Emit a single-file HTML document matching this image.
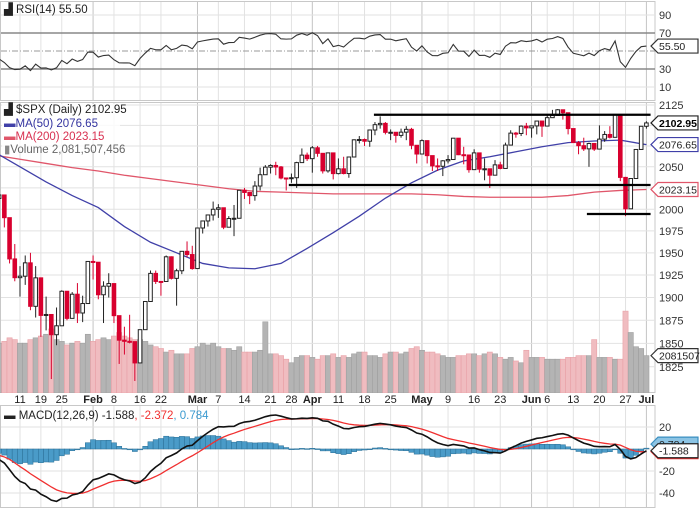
<!DOCTYPE html>
<html><head><meta charset="utf-8"><style>
html,body{margin:0;padding:0;background:#fff;}
svg{display:block;font-family:"Liberation Sans",sans-serif;}
</style></head><body>
<svg id="c" width="700" height="508" viewBox="0 0 700 508" xmlns="http://www.w3.org/2000/svg"></svg>
<script>
const closes=[2012.66,2016.71,1990.26,1943.09,1922.03,1923.67,1938.68,1890.28,1921.84,1880.33,1881.33,1859.33,1868.99,1906.90,1877.08,1903.63,1882.95,1893.36,1940.24,
1939.38,1903.03,1912.53,1915.45,1880.05,1853.44,1852.21,1851.86,1829.08,1864.78,1895.58,1926.82,1917.83,1917.78,1945.50,1921.27,1929.80,1951.70,1948.05,1932.23,
1978.35,1986.45,1993.40,1999.99,2001.76,1979.26,1989.26,1989.57,2022.19,2019.64,2015.93,2027.22,2040.59,2049.58,2051.60,2049.80,2036.71,2035.94,2037.05,2055.01,2063.95,2059.74,
2072.78,2066.13,2045.17,2066.66,2041.91,2047.60,2041.99,2061.72,2082.42,2082.78,2080.73,2094.34,2100.80,2102.40,2091.48,2091.58,2087.79,2091.70,2095.15,2075.81,2065.30,
2081.43,2063.37,2051.12,2050.63,2057.14,2058.69,2084.39,2064.46,2064.11,2046.61,2066.66,2047.21,2047.63,2040.04,2052.32,2048.04,2076.06,2090.54,2090.10,2099.06,2096.95,
2099.33,2105.26,2099.13,2109.41,2112.13,2119.12,2115.48,2096.07,2079.06,2075.32,2071.50,2077.99,2071.22,2083.25,2088.90,2085.45,2113.32,2037.41,2000.54,2036.09,2070.77,2098.86,
2102.95];
const highs=[2038,2021,2011,1985,1960,1935,1947,1950,1935,1908,1901,1876,1889,1908,1906,1906,1916,1902,1940,
1947,1939,1918,1927,1913,1873,1868,1881,1845,1865,1895,1930,1930,1918,1947,1946,1932,1952,1963,1958,
1978,1987,1993,2009,2006,1999,1992,2005,2022,2025,2018,2033,2049,2052,2053,2056,2051,2036,2042,2056,2072,2067,
2075,2075,2060,2067,2062,2060,2062,2062,2083,2087,2084,2095,2104,2111,2104,2095,2090,2096,2099,2097,2074,
2083,2076,2060,2060,2058,2064,2084,2084,2074,2064,2071,2067,2060,2044,2058,2056,2079,2094,2092,2100,2103,
2100,2105,2104,2113,2119,2120,2117,2109,2096,2081,2085,2079,2078,2100,2093,2099,2113,2113,2038,2036,2071,2099,
2105];
const lows=[1989,2005,1979,1938,1918,1901,1914,1886,1878,1857,1864,1812,1848,1878,1875,1877,1872,1873,1894,
1920,1898,1872,1900,1872,1828,1838,1850,1810,1833,1871,1898,1915,1902,1925,1920,1891,1926,1945,1931,
1937,1972,1980,1987,1990,1977,1979,1969,1999,2012,2006,2010,2022,2041,2042,2040,2035,2022,2031,2025,2058,2057,
2043,2062,2042,2043,2035,2041,2041,2037,2066,2078,2075,2074,2088,2096,2089,2082,2079,2085,2082,2071,2054,
2066,2054,2045,2045,2039,2054,2059,2064,2053,2043,2047,2043,2034,2025,2042,2047,2050,2078,2085,2087,2088,
2085,2089,2086,2100,2110,2112,2107,2089,2079,2065,2069,2050,2069,2082,2080,2084,2090,2033,1992,2001,2036,2071,
2096];
const volumes=[2.9,2.8,2.9,3.1,3.0,2.8,2.8,3.0,3.1,3.2,3.3,3.6,3.0,2.9,2.7,2.8,2.9,2.8,3.3,
2.9,3.0,3.1,3.0,3.2,3.4,3.2,3.1,3.0,3.0,2.9,2.7,2.6,2.5,2.3,2.4,2.2,2.2,2.2,2.5,
2.6,2.8,2.7,2.8,2.6,2.5,2.5,2.4,2.6,2.3,2.3,2.3,2.4,4.0,2.2,2.2,2.1,1.9,1.7,2.0,2.1,2.1,
2.0,1.9,2.1,2.1,2.2,2.0,2.1,2.0,2.2,2.3,2.3,2.1,2.1,2.0,2.2,2.3,2.3,2.2,2.3,2.5,2.6,
2.4,2.3,2.3,2.2,2.1,2.0,2.0,2.1,2.1,2.2,2.2,2.1,2.2,2.3,2.2,2.0,1.9,2.0,1.8,1.7,2.4,
2.0,2.0,2.0,1.9,1.9,1.9,1.9,2.0,2.0,2.1,2.1,2.1,3.0,2.0,2.0,2.0,1.9,1.9,4.6,3.4,2.6,2.5,
2.1];
const maSampleIdx=[0,5,10,15,20,25,30,35,40,45,50,55,60,65,70,75,80,85,90,95,100,105,110,115,120,125];
const ma50=[2068,2050,2032,2016,2002,1980,1962,1950,1938,1933,1932,1938,1955,1973,1992,2013,2031,2046,2057,2062,2068,2074,2079,2081,2082,2076.65];
const ma200=[2064,2059,2054,2049,2045,2040,2036,2032,2028,2024,2021,2020,2019,2018,2018,2018,2018,2017,2015,2014,2014,2014,2016,2020,2022,2023.15];
const tickIdx=[5,9,13,19,23,28,32,39,43,48,53,57,61,66,71,76,82,87,92,97,103,106,111,116,121,125];
const tickLabels=["11","19","25","Feb","8","16","22","Mar","7","14","21","28","Apr","11","18","25","May","9","16","23","Jun","6","13","20","27","Jul"];
const monthTick=[0,0,0,1,0,0,0,1,0,0,0,0,1,0,0,0,1,0,0,0,1,0,0,0,0,1];
const priceTicks=[2125,2100,2075,2050,2025,2000,1975,1950,1925,1900,1875,1850,1825];
const rsiTicks=[90,70,50,30,10];
const macdTicks=[20,0,-20,-40];
const trendLines=[[72.8,125.8,2113],[56.5,125.8,2028.4],[113.6,125.8,1994.5]];
const prevClose0=2043.94;

const NS="http://www.w3.org/2000/svg";
const svg=document.getElementById('c');
function mk(tag,at,parent){const e=document.createElementNS(NS,tag);for(const k in at)e.setAttribute(k,at[k]);(parent||svg).appendChild(e);return e;}
const PR=655;
function xOf(i){return 20+(i-5)*5.22;}
function yP(p){return 105+1720*Math.log(2125/p);}
function yR(v){return 33+(70-v)*0.9;}
function yM(m){return 449-m*1.1;}
function yV(v){return 393-v*17.8;}

const panels=[[1,101],[102,393],[405,508]];
panels.forEach((p,k)=>{const r=mk('rect',{x:0.5,y:p[0]+0.5,width:PR-0.5,height:p[1]-p[0]-1,fill:'#fff',stroke:'#c8c8c8'});

});
const defs=mk('defs',{});
[['clipR',1,101],['clipP',102,393],['clipM',405,508]].forEach(c=>{const cp=mk('clipPath',{id:c[0]},defs);mk('rect',{x:0,y:c[1],width:PR,height:c[2]-c[1]},cp);});

tickIdx.forEach((ti,k)=>{panels.forEach(p=>{const l=mk('line',{x1:xOf(ti),x2:xOf(ti),y1:p[0]+1,y2:p[1]-1,stroke:monthTick[k]?'#c4c4c4':'#e2e2e2','stroke-width':1});

});
const t=mk('text',{x:xOf(ti),y:403,'text-anchor':'middle','font-size':11,fill:'#222','font-weight':monthTick[k]?'bold':'normal'});
t.textContent=tickLabels[k];

});

priceTicks.forEach(p=>{const l=mk('line',{x1:1,x2:PR,y1:yP(p),y2:yP(p),stroke:'#e2e2e2'});


const t=mk('text',{x:659,y:yP(p)+4,'font-size':11,fill:'#333'});t.textContent=p;

});
rsiTicks.forEach(v=>{const strong=(v==70||v==30);const l=mk('line',{x1:1,x2:PR,y1:yR(v),y2:yR(v),stroke:strong?'#888':(v==50?'#999':'#e2e2e2'),'stroke-width':strong?1.5:1,'stroke-dasharray':v==50?'6,2,1,2':'none'});


if(v!=50){const t=mk('text',{x:659,y:yR(v)+4,'font-size':11,fill:'#333'});t.textContent=v;

}});
macdTicks.forEach(v=>{const l=mk('line',{x1:1,x2:PR,y1:yM(v),y2:yM(v),stroke:'#e2e2e2'});


if(v!=0){const t=mk('text',{x:659,y:yM(v)+4,'font-size':11,fill:'#333'});t.textContent=v;

}});

let ag=9,al=11;const rsi=[];
closes.forEach((c,i)=>{const d=c-(i?closes[i-1]:prevClose0);ag=(ag*13+Math.max(d,0))/14;al=(al*13+Math.max(-d,0))/14;rsi.push(100-100/(1+ag/al));});
const gR=mk('g',{'clip-path':'url(#clipR)'});
const rl=mk('polyline',{points:rsi.map((v,i)=>xOf(i)+','+yR(v)).join(' '),fill:'none',stroke:'#333','stroke-width':1.1},gR);



const gP=mk('g',{'clip-path':'url(#clipP)'});
volumes.forEach((v,i)=>{const down=closes[i]<(i?closes[i-1]:prevClose0);const r=mk('rect',{x:xOf(i)-2.6,y:yV(v),width:5.2,height:393-yV(v),fill:down?'#f0bcc0':'#b4b4b4',stroke:down?'#e8a0a6':'#a0a0a0','stroke-width':0.6},gP);

});
function maLine(arr,col,name){const l=mk('polyline',{points:arr.map((v,k)=>xOf(maSampleIdx[k])+','+yP(v)).join(' '),fill:'none',stroke:col,'stroke-width':1.3},gP);

}
maLine(ma200,'#e0566a','ma200-line');
maLine(ma50,'#4040a8','ma50-line');
closes.forEach((c,i)=>{const o=i?closes[i-1]:2038;const x=xOf(i);const up=c>=o;const col=up?'#222':'#d8002e';
const w=mk('line',{x1:x,x2:x,y1:yP(highs[i]),y2:yP(lows[i]),stroke:col,'stroke-width':1},gP);


const top=yP(Math.max(o,c)),bot=yP(Math.min(o,c));
const b=mk('rect',{x:x-1.8,y:top,width:3.6,height:Math.max(bot-top,1),fill:up?'#fff':'#d8002e',stroke:col,'stroke-width':1},gP);

});
trendLines.forEach(t=>{const l=mk('line',{x1:xOf(t[0]),x2:xOf(t[1]),y1:yP(t[2]),y2:yP(t[2]),stroke:'#000','stroke-width':2.2},gP);

});

let e12=2047,e26=2053,sg=-4;const macd=[],sig=[];
closes.forEach(c=>{e12+= (c-e12)*2/13;e26+=(c-e26)*2/27;const m=e12-e26;sg+=(m-sg)*0.2;macd.push(m);sig.push(sg);});
const gM=mk('g',{'clip-path':'url(#clipM)'});
macd.forEach((m,i)=>{const h=m-sig[i];const y0=yM(0),y1=yM(h);const r=mk('rect',{x:xOf(i)-2.6,y:Math.min(y0,y1),width:5.2,height:Math.max(Math.abs(y1-y0),0.8),fill:'#4a9bc8',stroke:'#2a6f96','stroke-width':0.5},gM);

});
const sl=mk('polyline',{points:sig.map((v,i)=>xOf(i)+','+yM(v)).join(' '),fill:'none',stroke:'#f03030','stroke-width':1.3},gM);


const ml=mk('polyline',{points:macd.map((v,i)=>xOf(i)+','+yM(v)).join(' '),fill:'none',stroke:'#111','stroke-width':1.6},gM);



function tag(y,txt,stroke,fill,tcol,bold,name){const g=mk('g',{});
mk('polygon',{points:`${PR-4},${y} ${PR+3},${y-7} 698,${y-7} 698,${y+7} ${PR+3},${y+7}`,fill:fill,stroke:stroke,'stroke-width':1.2},g);
const t=mk('text',{x:PR+4,y:y+4,'font-size':10.5,fill:tcol,'font-weight':bold?'bold':'normal'},g);t.textContent=txt;

}
tag(yR(rsi[rsi.length-1]),'55.50','#333','#fff','#222',false,'rsi-value-tag');
tag(yV(volumes[volumes.length-1]),'2081507','#333','#fff','#222',false,'volume-value-tag');
tag(yP(ma200[ma200.length-1]),'2023.15','#e0566a','#fff','#222',false,'ma200-value-tag');
tag(yP(ma50[ma50.length-1]),'2076.65','#4040a8','#fff','#222',false,'ma50-value-tag');
tag(yP(closes[closes.length-1]),'2102.95','#222','#fff','#000',true,'price-value-tag');
tag(yM(sig[sig.length-1]),'','#f03030','#fff','#222',false,'signal-value-tag');
tag(yM(macd[macd.length-1]-sig[sig.length-1])-4,'0.784','#3a8fc0','#8cc4e4','#222',false,'histogram-value-tag');
tag(yM(macd[macd.length-1]),'-1.588','#222','#fff','#222',false,'macd-value-tag');

function legend(x,y,parts,name){const t=mk('text',{x:x,y:y,'font-size':11.5});parts.forEach(p=>{const s=mk('tspan',{fill:p[1]},t);s.textContent=p[0];});

}
const lb=mk('rect',{x:2,y:104,width:118,height:46,fill:'#fff','fill-opacity':0.8});


legend(4,13,[['▟ RSI(14) 55.50','#222']],'rsi-legend');
legend(4,113,[['▟ $SPX (Daily) 2102.95','#222']],'price-legend');
legend(4,127,[['▬','#4040a8'],['MA(50) 2076.65','#3434a0']],'ma50-legend');
legend(4,140,[['▬','#e0566a'],['MA(200) 2023.15','#d83050']],'ma200-legend');
legend(4,153,[['▮','#888'],['Volume 2,081,507,456','#666']],'volume-legend');
legend(4,419,[['▬ MACD(12,26,9) -1.588','#222'],[', -2.372','#f03030'],[', 0.784','#3a9ad0']],'macd-legend');
</script>
</body></html>
